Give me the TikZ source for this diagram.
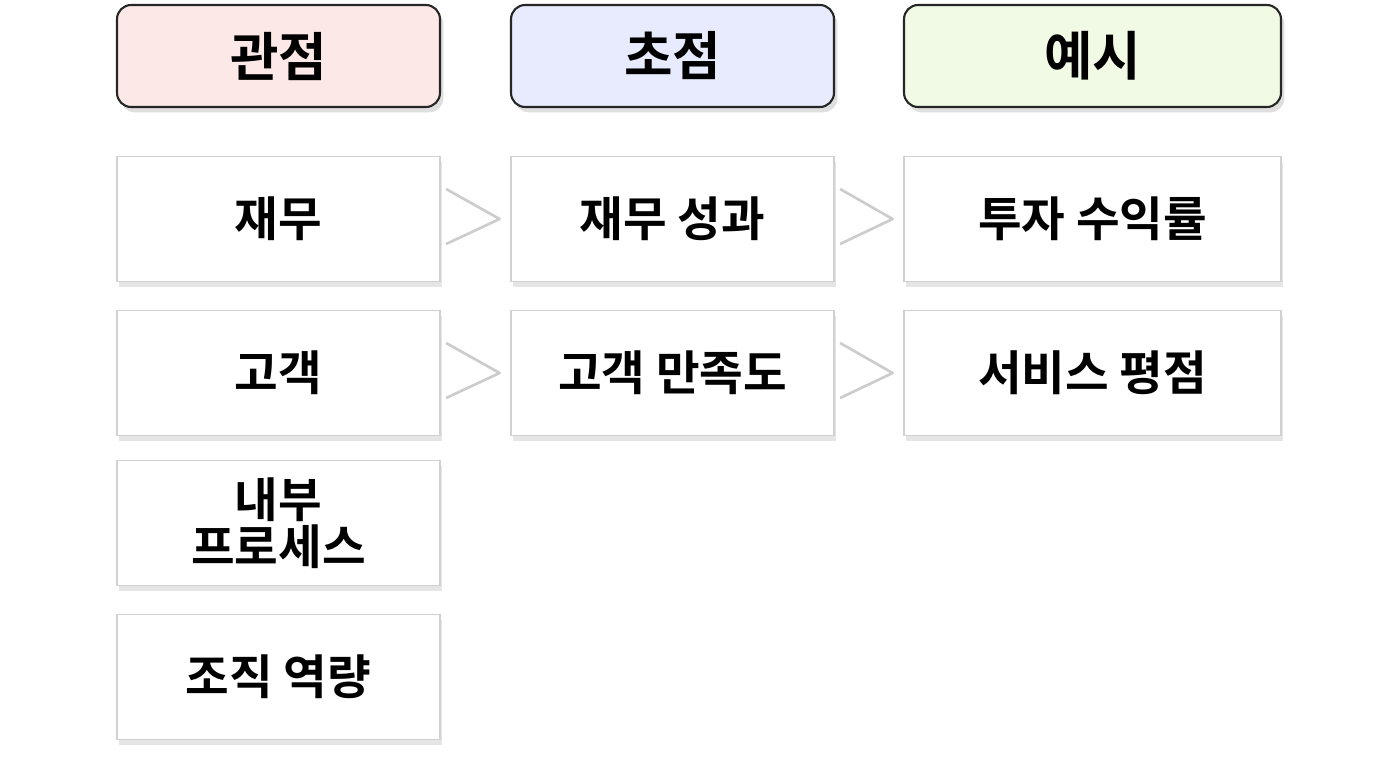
\documentclass[tikz,border=0pt]{standalone}
\usepackage{fontspec}
\setmainfont{Noto Sans CJK KR}[BoldFont={Noto Sans CJK KR Bold}]
\usetikzlibrary{positioning,shadows}
\definecolor{hdrA}{RGB}{253,232,232}
\definecolor{hdrB}{RGB}{232,234,253}
\definecolor{hdrC}{RGB}{241,250,228}
\tikzset{
  hdr/.style={draw=black!85,line width=1.2pt,rounded corners=8pt,minimum height=2.04cm,
    font=\bfseries\fontsize{30}{34}\selectfont,drop shadow={opacity=0.25,shadow xshift=2pt,shadow yshift=-3pt}},
  cell/.style={draw=black!18,line width=1pt,fill=white,minimum height=2.5cm,align=center,
    font=\bfseries\fontsize{27}{33}\selectfont,drop shadow={opacity=0.2,shadow xshift=1pt,shadow yshift=-3pt}},
  link/.style={draw=black!20,line width=1.5pt,fill=white,line join=round}
}
\begin{document}
\begin{tikzpicture}[x=0.02cm,y=-0.02cm]
  \useasboundingbox[fill=white] (0,0) rectangle (1376,768);
  % headers
  \node[hdr,fill=hdrA,minimum width=6.46cm] (h1) at (278.5,56) {관점};
  \node[hdr,fill=hdrB,minimum width=6.46cm] (h2) at (672.5,56) {초점};
  \node[hdr,fill=hdrC,minimum width=7.54cm] (h3) at (1092.5,56) {예시};
  % first column
  \node[cell,minimum width=6.46cm] (fin) at (278.5,219) {재무};
  \node[cell,minimum width=6.46cm] (cus) at (278.5,373) {고객};
  \node[cell,minimum width=6.46cm] (int) at (278.5,523) {내부\\[-6pt]프로세스};
  \node[cell,minimum width=6.46cm] (org) at (278.5,677) {조직 역량};
  % focus
  \node[cell,minimum width=6.46cm] (finf) at (672.5,219) {재무 성과};
  \node[cell,minimum width=6.46cm] (cusf) at (672.5,373) {고객 만족도};
  % examples
  \node[cell,minimum width=7.54cm] (fine) at (1092.5,219) {투자 수익률};
  \node[cell,minimum width=7.54cm] (cuse) at (1092.5,373) {서비스 평점};
  % links
  \foreach \a/\b in {fin/finf,finf/fine,cus/cusf,cusf/cuse}{
    \path[link] ([xshift=3pt,yshift=0.6cm]\a.east) -- ([xshift=-6pt]\b.west)
      -- ([xshift=3pt,yshift=-0.5cm]\a.east);
  }
\end{tikzpicture}
\end{document}
